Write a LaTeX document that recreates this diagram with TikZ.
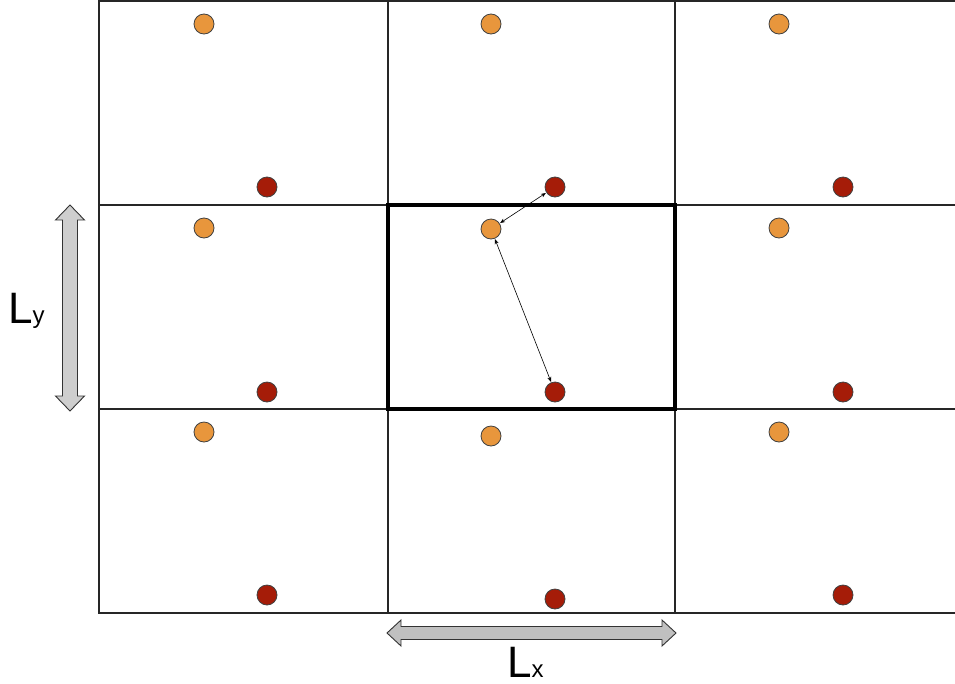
\documentclass[tikz,border=0pt]{standalone}
\usepackage{fontspec}
\setmainfont{Liberation Sans}
\usetikzlibrary{arrows.meta}
\definecolor{dotorange}{RGB}{232,150,60}
\definecolor{dotred}{RGB}{165,28,8}
\definecolor{arrgrayv}{RGB}{206,206,206}
\definecolor{arrgrayh}{RGB}{192,192,192}
\tikzset{
  gridline/.style={line width=1.6pt,draw=black!85},
  cellbox/.style={line width=3.4pt,draw=black},
  odot/.style={circle,minimum size=20pt,inner sep=0pt,draw=black!75,line width=0.8pt,fill=dotorange},
  rdot/.style={circle,minimum size=20pt,inner sep=0pt,draw=black!75,line width=0.8pt,fill=dotred},
  pairarrow/.style={line width=0.6pt,{Stealth[length=5pt,width=4pt]}-{Stealth[length=5pt,width=4pt]},shorten <=0.5pt,shorten >=0.5pt},
  bigarrow/.style={draw=black!80,line width=0.9pt,line join=miter},
  lbl/.style={font=\fontsize{44}{48}\selectfont,inner sep=0pt}
}
\begin{document}
\begin{tikzpicture}[x=1pt,y=-1pt]
\useasboundingbox (0,0) rectangle (955,683);
% grid
\foreach \yy in {1,205,409,613} \draw[gridline] (99,\yy) -- (956,\yy);
\foreach \xx in {99,388,675} \draw[gridline] (\xx,0) -- (\xx,613.8);
\draw[cellbox] (388,205) rectangle (675,409);
% dots
\node[odot] (o11) at (204,24) {};
\node[odot] (o12) at (491,24) {};
\node[odot] (o13) at (779,24) {};
\node[rdot] (r11) at (267,187) {};
\node[rdot] (r12) at (555,187) {};
\node[rdot] (r13) at (843,187) {};
\node[odot] (o21) at (204,228) {};
\node[odot] (o22) at (491,229) {};
\node[odot] (o23) at (779,228) {};
\node[rdot] (r21) at (267,392) {};
\node[rdot] (r22) at (555,392) {};
\node[rdot] (r23) at (843,392) {};
\node[odot] (o31) at (204,432) {};
\node[odot] (o32) at (491,436) {};
\node[odot] (o33) at (779,432) {};
\node[rdot] (r31) at (267,595) {};
\node[rdot] (r32) at (555,599) {};
\node[rdot] (r33) at (843,595) {};
% pair arrows
\draw[pairarrow] (r12) -- (o22);
\draw[pairarrow] (o22) -- (r22);
% dimension arrows
\draw[bigarrow,fill=arrgrayv] (70,205) -- (84.5,220) -- (77.5,220) -- (77.5,396) -- (84.5,396)
  -- (70,411) -- (55.5,396) -- (62.5,396) -- (62.5,220) -- (55.5,220) -- cycle;
\draw[bigarrow,fill=arrgrayh] (387,633) -- (401,620) -- (401,626.5) -- (662,626.5) -- (662,620)
  -- (676,633) -- (662,646) -- (662,639.5) -- (401,639.5) -- (401,646) -- cycle;
\node[lbl,anchor=base west] (ly) at (8,323) {L\fontsize{24}{26}\selectfont y};
\node[lbl,anchor=base west] (lx) at (507,677) {L\fontsize{24}{26}\selectfont x};
\end{tikzpicture}
\end{document}
